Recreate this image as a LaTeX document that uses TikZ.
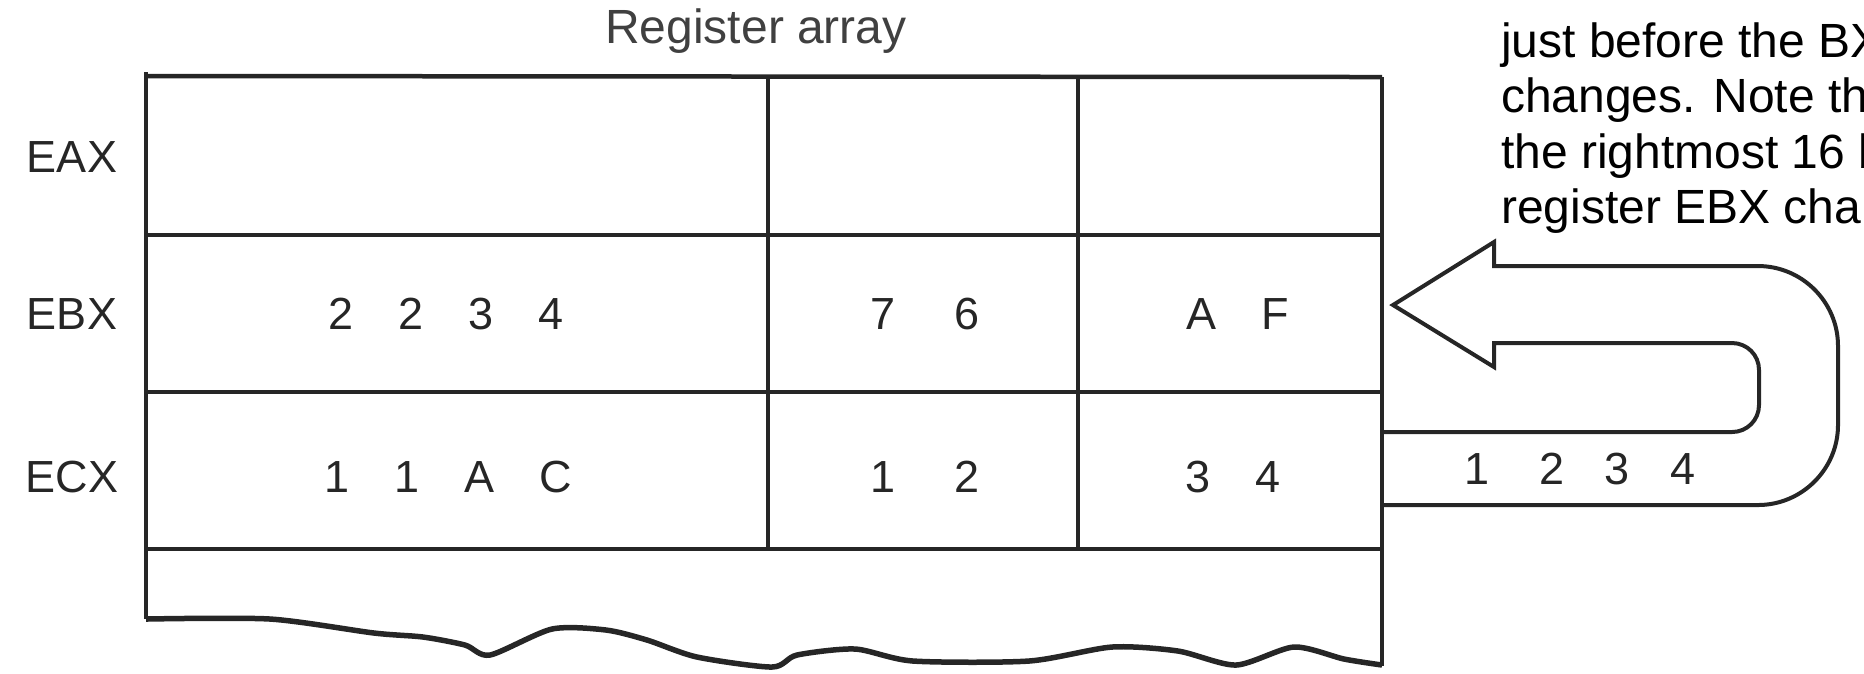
\documentclass[tikz,border=0pt]{standalone}
\usepackage{fontspec}
\setmainfont{Liberation Sans}

\tikzset{
  cell/.style={inner sep=0pt, text=black!85, font=\fontsize{9}{11}\selectfont},
  regname/.style={cell, anchor=center},
  note/.style={inner sep=0pt, anchor=base west, font=\fontsize{9.6}{11}\selectfont},
  grid/.style={line width=0.9pt, draw=black!85},
  loopline/.style={line width=0.8pt, draw=black!85, line join=miter}
}

\begin{document}
\begin{tikzpicture}[x=0.2pt, y=-0.2pt]
  \useasboundingbox (0,0) rectangle (1864,673);
  \clip (0,0) rectangle (1864,673);

  \node[cell, anchor=base, text=black!75, font=\fontsize{9.6}{11}\selectfont] (title) at (756,43) {Register array};

  % the register table
  \draw[grid] (146,76) -- (1382,77);
  \draw[grid] (146,72) -- (146,619);
  \draw[grid] (1382,77) -- (1382,666);
  \draw[grid] (146,235) -- (1382,235);
  \draw[grid] (146,392) -- (1382,392);
  \draw[grid] (146,549) -- (1382,549);
  \draw[grid] (768,76) -- (768,549);
  \draw[grid] (1078,77) -- (1078,549);
  \draw[grid, line width=1.1pt, line join=round] plot[smooth, tension=0.45] coordinates {
      (146,619) (270,619) (374,633) (423,637) (465,645) (490,655)
      (552,629) (606,630) (647,640) (697,657) (772,667) (797,655)
      (855,649) (913,661) (1029,661) (1112,647) (1178,651) (1236,665)
      (1294,647) (1344,659) (1382,665)};

  \node[regname] (eax) at (72,157) {EAX};
  \node[regname] (ebx) at (72,314) {EBX};
  \node[regname] (ecx) at (72,477) {ECX};

  \node[cell] (ebxhigh) at (446,314) {2\hspace{1em}2\hspace{1em}3\hspace{1em}4};
  \node[cell] (ebxmid) at (925,314) {7\hspace{1.3em}6};
  \node[cell] (ebxlow) at (1238,314) {A\hspace{1em}F};
  \node[cell] (ecxhigh) at (448,477) {1\hspace{1em}1\hspace{1em}A\hspace{1em}C};
  \node[cell] (ecxmid) at (925,477) {1\hspace{1.3em}2};
  \node[cell] (ecxlow) at (1233,477) {3\hspace{1em}4};

  % CX copied back into BX
  \draw[loopline] (1382,432) -- (1732,432)
      .. controls (1747,432) and (1759,420) .. (1759,405) -- (1759,370)
      .. controls (1759,355) and (1747,343) .. (1732,343) -- (1494,343)
      -- (1494,367) -- (1393,305) -- (1494,242) -- (1494,266) -- (1758,266)
      .. controls (1802,266) and (1838,302) .. (1838,346) -- (1838,425)
      .. controls (1838,469) and (1802,505) .. (1758,505) -- (1382,505);
  \node[cell] (cxvalue) at (1580,469) {1\hspace{1.1em}2\hspace{0.9em}3\hspace{0.9em}4};

  \node[note] (note1) at (1500,57) {just before the BX};
  \node[note] (note2) at (1500,112) {changes. Note th};
  \node[note] (note3) at (1500,168) {the rightmost 16 b};
  \node[note] (note4) at (1500,223) {register EBX chan};
\end{tikzpicture}
\end{document}
